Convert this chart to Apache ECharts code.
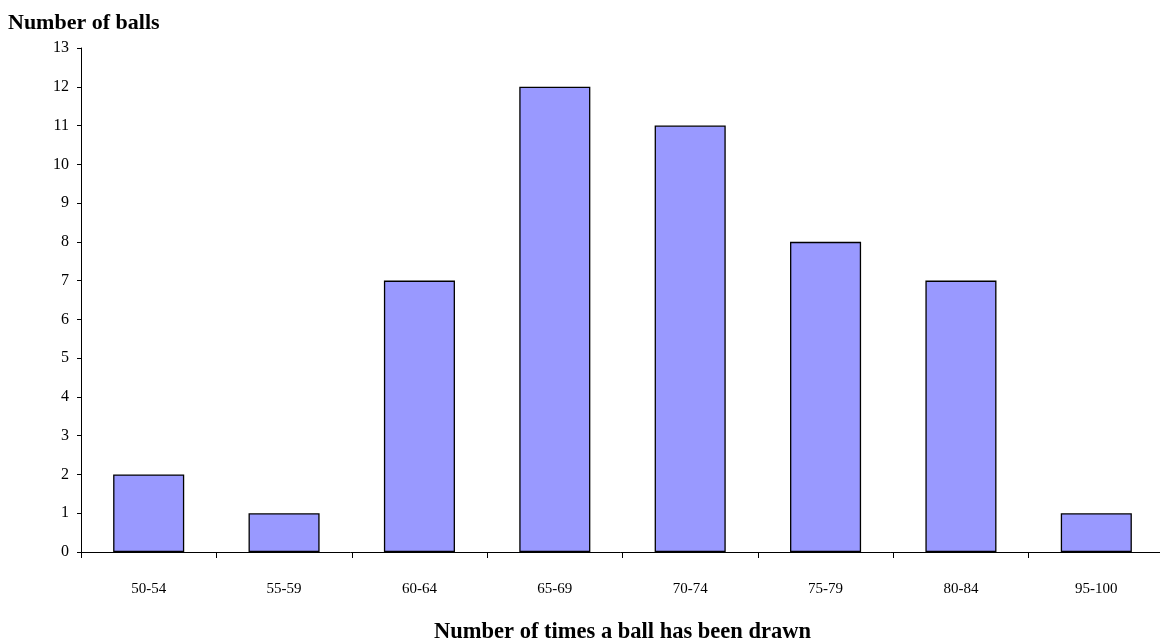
<!DOCTYPE html>
<html><head><meta charset="utf-8">
<script src="https://cdn.jsdelivr.net/npm/echarts@6/dist/echarts.min.js"></script>
<style>html,body{margin:0;padding:0;background:#fff}#c{width:1160px;height:643px}</style>
</head><body><div id="c"></div>
<script>
const categories = ['50-54','55-59','60-64','65-69','70-74','75-79','80-84','95-100'];
const counts = [2,1,7,12,11,8,7,1];
const yTicks = {min:0, max:13, interval:1};
const font = 'Liberation Serif';
const chart = echarts.init(document.getElementById('c'));
chart.setOption({
  animation:false,
  backgroundColor:'#fff',
  title:{text:'Number of balls', left:3, top:7, textStyle:{fontFamily:font, fontWeight:'bold', fontSize:22, color:'#000'}},
  grid:{left:81, right:-4, top:48, bottom:91, containLabel:false, outerBoundsMode:'none'},
  xAxis:{type:'category', data:categories,
    name:'Number of times a ball has been drawn', nameLocation:'middle', nameGap:69,
    nameTextStyle:{fontFamily:font, fontWeight:'bold', fontSize:22.5, color:'#000'},
    axisLine:{lineStyle:{color:'#000', width:1}},
    axisTick:{show:true, alignWithLabel:false, length:6, inside:false, lineStyle:{color:'#000'}},
    axisLabel:{fontFamily:font, fontSize:15, color:'#000', margin:30}
  },
  yAxis:{type:'value', min:yTicks.min, max:yTicks.max, interval:yTicks.interval,
    splitLine:{show:false},
    axisLine:{show:true, lineStyle:{color:'#000', width:1}},
    axisTick:{show:true, length:4, lineStyle:{color:'#000'}},
    axisLabel:{fontFamily:font, fontSize:16, color:'#000', margin:12}
  },
  series:[{type:'bar', data:counts, barWidth:'52.5%',
    itemStyle:{color:'#9999FF', borderColor:'#000', borderWidth:1.3}}]
});
</script></body></html>
